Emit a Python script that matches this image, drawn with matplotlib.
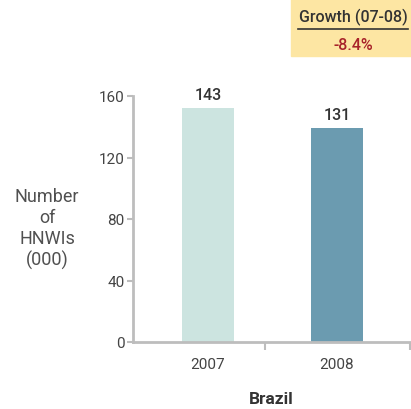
import matplotlib.pyplot as plt

# data
years = ['2007', '2008']
bar_heights = [152, 139]      # heights as drawn
bar_labels = ['143', '131']   # value labels printed above the bars
yticks = [0, 40, 80, 120, 160]
growth_title = 'Growth (07-08)'
growth_value = '-8.4%'

bar_colors = ['#cce4e0', '#6b9bb0']
axis_gray = '#bdbdbd'
text_col = '#333333'

plt.rcParams['font.family'] = ['Roboto', 'DejaVu Sans']

fig = plt.figure(figsize=(4.11, 4.10), dpi=100)
ax = fig.add_axes([133 / 411, 67 / 410, 277 / 411, 246 / 410])

x = list(range(len(years)))
ax.bar(x, bar_heights, width=0.40, color=bar_colors)

for xi, h, lab in zip(x, bar_heights, bar_labels):
    ax.text(xi, h + 4, lab, ha='center', va='bottom', fontsize=11.5,
            color=text_col, fontweight='medium')

ax.set_xlim(-0.581, 1.566)
ax.set_ylim(0, 160)
ax.set_yticks(yticks)
ax.tick_params(axis='y', colors=axis_gray, labelcolor='#444444', labelsize=11,
               length=4, width=1.5, pad=2)

# category boundary ticks on the x axis, labels at bar centres
ax.set_xticks([0.442, 1.566])
ax.set_xticklabels([])
ax.set_xticks(x, minor=True)
ax.set_xticklabels(years, minor=True)
ax.tick_params(axis='x', which='major', colors=axis_gray, length=6, width=1.5,
               direction='out')
ax.tick_params(axis='x', which='minor', length=0, labelsize=11,
               labelcolor='#444444', pad=11)

for side in ['top', 'right']:
    ax.spines[side].set_visible(False)
for side in ['left', 'bottom']:
    ax.spines[side].set_color(axis_gray)
    ax.spines[side].set_linewidth(2)

ax.set_xlabel('Brazil', fontsize=12.5, fontweight='bold', color=text_col,
              labelpad=14)

fig.text(47 / 411, 1 - 229 / 410, 'Number\nof\nHNWIs\n(000)', ha='center',
         va='center', fontsize=13, color='#505050',
         linespacing=1.2)

# growth box in the top-right corner
fig.patches.append(plt.Rectangle((291 / 411, 1 - 57 / 410), 120 / 411, 57 / 410,
                                 transform=fig.transFigure, color='#fde6a3',
                                 zorder=0))
fig.add_artist(plt.Line2D([298 / 411, 408 / 411], [1 - 30 / 410, 1 - 30 / 410],
                          transform=fig.transFigure, color='#333333', lw=1.2))
fig.text(353 / 411, 1 - 17 / 410, growth_title, ha='center', va='center',
         fontsize=11.5, fontweight='medium', color=text_col)
fig.text(353 / 411, 1 - 46 / 410, growth_value, ha='center', va='center',
         fontsize=11.5, fontweight='medium', color='#a8232a')

fig.savefig('out.png', dpi=100)
